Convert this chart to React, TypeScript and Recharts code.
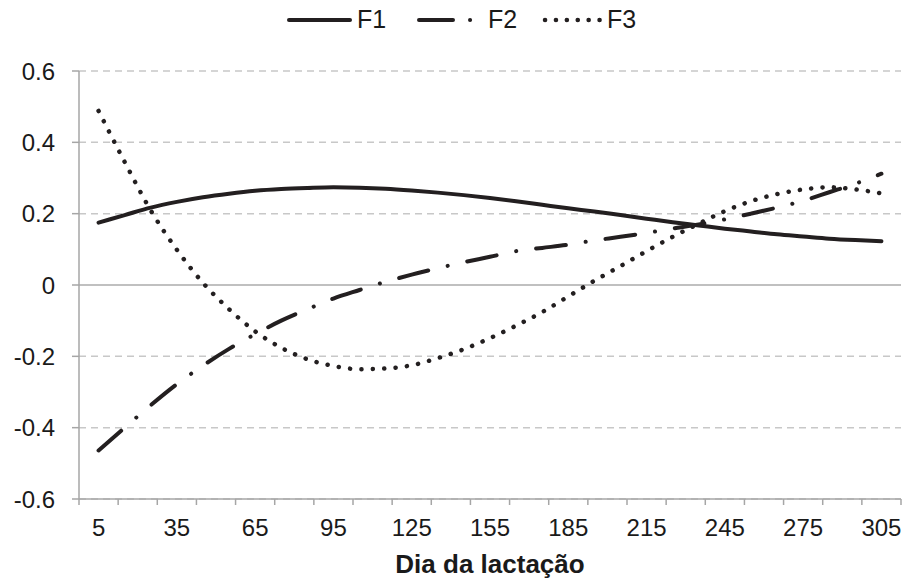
import { LineChart, Line, XAxis, YAxis, CartesianGrid, ReferenceLine } from "recharts";

// Dia da lactação (pontos a cada 10 dias)
const dias = [5, 15, 25, 35, 45, 55, 65, 75, 85, 95, 105, 115, 125, 135, 145, 155, 165, 175, 185, 195, 205, 215, 225, 235, 245, 255, 265, 275, 285, 295, 305];

// Autofunções
const f1 = [0.175, 0.196, 0.217, 0.233, 0.246, 0.256, 0.264, 0.269, 0.272, 0.274, 0.273, 0.27, 0.265, 0.259, 0.252, 0.244, 0.235, 0.225, 0.215, 0.206, 0.196, 0.186, 0.176, 0.167, 0.158, 0.15, 0.142, 0.136, 0.13, 0.126, 0.123];
const f2 = [-0.464, -0.4, -0.337, -0.278, -0.226, -0.179, -0.138, -0.1, -0.068, -0.038, -0.014, 0.009, 0.029, 0.047, 0.064, 0.079, 0.095, 0.104, 0.113, 0.125, 0.135, 0.146, 0.158, 0.17, 0.184, 0.2, 0.217, 0.236, 0.26, 0.284, 0.312];
const f3 = [0.488, 0.345, 0.209, 0.099, 0.006, -0.068, -0.13, -0.176, -0.208, -0.227, -0.236, -0.234, -0.225, -0.205, -0.18, -0.149, -0.114, -0.076, -0.032, 0.012, 0.053, 0.095, 0.135, 0.172, 0.207, 0.235, 0.255, 0.268, 0.274, 0.268, 0.257];

// Eixos
const xLabels = [5, 35, 65, 95, 125, 155, 185, 215, 245, 275, 305];
const xTickMarks = [-2.5, 12.5, 27.5, 42.5, 57.5, 72.5, 87.5, 102.5, 117.5, 132.5, 147.5, 162.5, 177.5, 192.5, 207.5, 222.5, 237.5, 252.5, 267.5, 282.5, 297.5, 312.5];
const yTicks = [-0.6, -0.4, -0.2, 0, 0.2, 0.4, 0.6];

const data = dias.map((d, i) => ({ dia: d, F1: f1[i], F2: f2[i], F3: f3[i] }));
const xTicks = [...xLabels, ...xTickMarks].sort((a, b) => a - b);

const FONT = "'Liberation Sans', Arial, sans-serif";
const INK = "#231f20";
const TEXT = "#1a1a1a";
const AXIS = "#a6a6a6";
const DASH_F2 = "30 20 0.1 20";
const DOT_F3 = "0.1 11.3";

// tick do eixo X: rótulo a cada 30 dias, marca a cada 15
function XTick(props: any) {
  const { x, y, payload } = props;
  const v = payload.value;
  if (xLabels.includes(v)) {
    return (
      <text x={x} y={y + 37} textAnchor="middle" fontSize={24} fontFamily={FONT} fill={TEXT}>
        {v}
      </text>
    );
  }
  return <line x1={x} y1={y} x2={x} y2={y + 6} stroke={AXIS} strokeWidth={1.5} />;
}

function Legenda() {
  const t = { fontSize: 25, fontFamily: FONT, fill: TEXT, dominantBaseline: "central" as const };
  return (
    <svg width={905} height={40} style={{ position: "absolute", left: 0, top: 0 }}>
      <line x1={289} y1={20} x2={350} y2={20} stroke={INK} strokeWidth={4} strokeLinecap="round" />
      <text x={357} y={19} {...t}>F1</text>
      <line x1={419} y1={20} x2={472} y2={20} stroke={INK} strokeWidth={4} strokeLinecap="round" strokeDasharray="34 17 0.1 100" />
      <text x={488} y={19} {...t}>F2</text>
      <line x1={545} y1={20} x2={600} y2={20} stroke={INK} strokeWidth={4.5} strokeLinecap="round" strokeDasharray="0.1 10.8" />
      <text x={607} y={19} {...t}>F3</text>
    </svg>
  );
}

export default function App() {
  return (
    <div style={{ position: "relative", width: 905, height: 581, background: "#fff" }}>
      <style>{`body{margin:0}`}</style>
      <LineChart width={905} height={581} data={data} margin={{ top: 71, right: 4, left: 0, bottom: 0 }}>
        <CartesianGrid vertical={false} stroke="#c8c8c8" strokeWidth={1.5} strokeDasharray="7 5" />
        <XAxis
          dataKey="dia"
          type="number"
          domain={[-2.5, 312.5]}
          ticks={xTicks}
          interval={0}
          tick={<XTick />}
          tickLine={false}
          tickSize={0}
          tickMargin={0}
          height={82}
          axisLine={{ stroke: AXIS, strokeWidth: 1.5 }}
          label={{ value: "Dia da lactação", position: "insideBottom", offset: 8, style: { fontSize: 26, fontWeight: "bold", fontFamily: FONT, fill: TEXT } }}
        />
        <YAxis
          type="number"
          domain={[-0.6, 0.6]}
          ticks={yTicks}
          width={79}
          tickSize={7}
          tickMargin={17}
          tickLine={{ stroke: AXIS, strokeWidth: 1.5 }}
          axisLine={{ stroke: AXIS, strokeWidth: 1.5 }}
          tick={{ fontSize: 24, fontFamily: FONT, fill: TEXT }}
        />
        <ReferenceLine y={0} stroke="#c0c0c0" strokeWidth={2} />
        <Line type="monotone" dataKey="F1" stroke={INK} strokeWidth={4} strokeLinecap="round" dot={false} isAnimationActive={false} />
        <Line type="monotone" dataKey="F2" stroke={INK} strokeWidth={4} strokeLinecap="round" strokeDasharray={DASH_F2} dot={false} isAnimationActive={false} />
        <Line type="monotone" dataKey="F3" stroke={INK} strokeWidth={4.5} strokeLinecap="round" strokeDasharray={DOT_F3} dot={false} isAnimationActive={false} />
      </LineChart>
      <Legenda />
    </div>
  );
}
